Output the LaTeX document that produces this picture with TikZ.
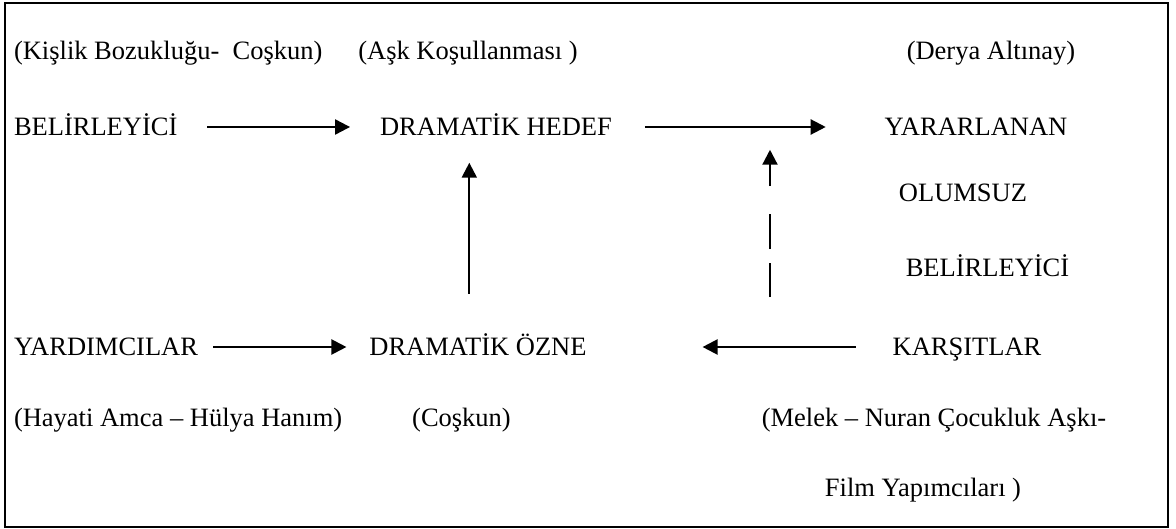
\documentclass[tikz,border=0pt]{standalone}
\usepackage{fontspec}
\setmainfont{Liberation Serif}
\usetikzlibrary{arrows.meta}
\begin{document}
\begin{tikzpicture}[x=1pt,y=-1pt,
  lbl/.style={inner sep=0pt,outer sep=0pt,text height=17.5pt,text depth=0pt,
    font=\fontsize{26.5}{30}\selectfont},
  arr/.style={line width=2.2pt,-{Triangle[length=15pt,width=15pt]}},
  frame/.style={line width=1.6pt}]
\useasboundingbox (0,0) rectangle (1176,529);
\draw[frame] (5,3) rectangle (1168,527);

% top row: remarks in brackets
\node[lbl,anchor=west] (kb) at (14,51) {(Kişlik Bozukluğu-\ \ Coşkun)};
\node[lbl] (ak) at (468,51) {(Aşk Koşullanması )};
\node[lbl] (da) at (991,51) {(Derya Altınay)};

% upper axis
\node[lbl,anchor=west] (bel) at (14,127) {BELİRLEYİCİ};
\node[lbl] (hedef) at (496,127) {DRAMATİK HEDEF};
\node[lbl] (yar) at (976,127) {YARARLANAN};
\node[lbl] (olm) at (963,193) {OLUMSUZ};
\node[lbl] (bel2) at (987.5,268) {BELİRLEYİCİ};

% lower axis
\node[lbl,anchor=west] (yard) at (14,347) {YARDIMCILAR};
\node[lbl] (ozne) at (478,347) {DRAMATİK ÖZNE};
\node[lbl] (kars) at (967,347) {KARŞITLAR};

% bottom remarks
\node[lbl,anchor=west] (hay) at (14,418) {(Hayati Amca – Hülya Hanım)};
\node[lbl] (cos) at (461.5,418) {(Coşkun)};
\node[lbl] (mel) at (934,418) {(Melek – Nuran Çocukluk Aşkı-};
\node[lbl] (film) at (923,488) {Film Yapımcıları )};

% x positions of the two vertical connectors
\coordinate (vx) at (469.3,0);
\coordinate (dx) at (770,0);

\draw[arr] ([xshift=30pt]bel.east) -- ([xshift=-30pt]hedef.west);
\draw[arr] ([xshift=33pt]hedef.east) -- ([xshift=-59pt]yar.west);
\draw[arr,shorten <=44.5pt,shorten >=27pt] (ozne.north -| vx) -- (hedef.south -| vx);
\draw[arr] ([xshift=15pt]yard.east) -- ([xshift=-23pt]ozne.west);
\draw[arr] ([xshift=-37pt]kars.west) -- ([xshift=116pt]ozne.east);
\draw[arr,shorten <=41pt,shorten >=14pt,dash pattern=on 34pt off 14pt on 35pt off 28pt on 200pt off 0pt]
  (kars.north -| dx) -- (yar.south -| dx);
\end{tikzpicture}
\end{document}
